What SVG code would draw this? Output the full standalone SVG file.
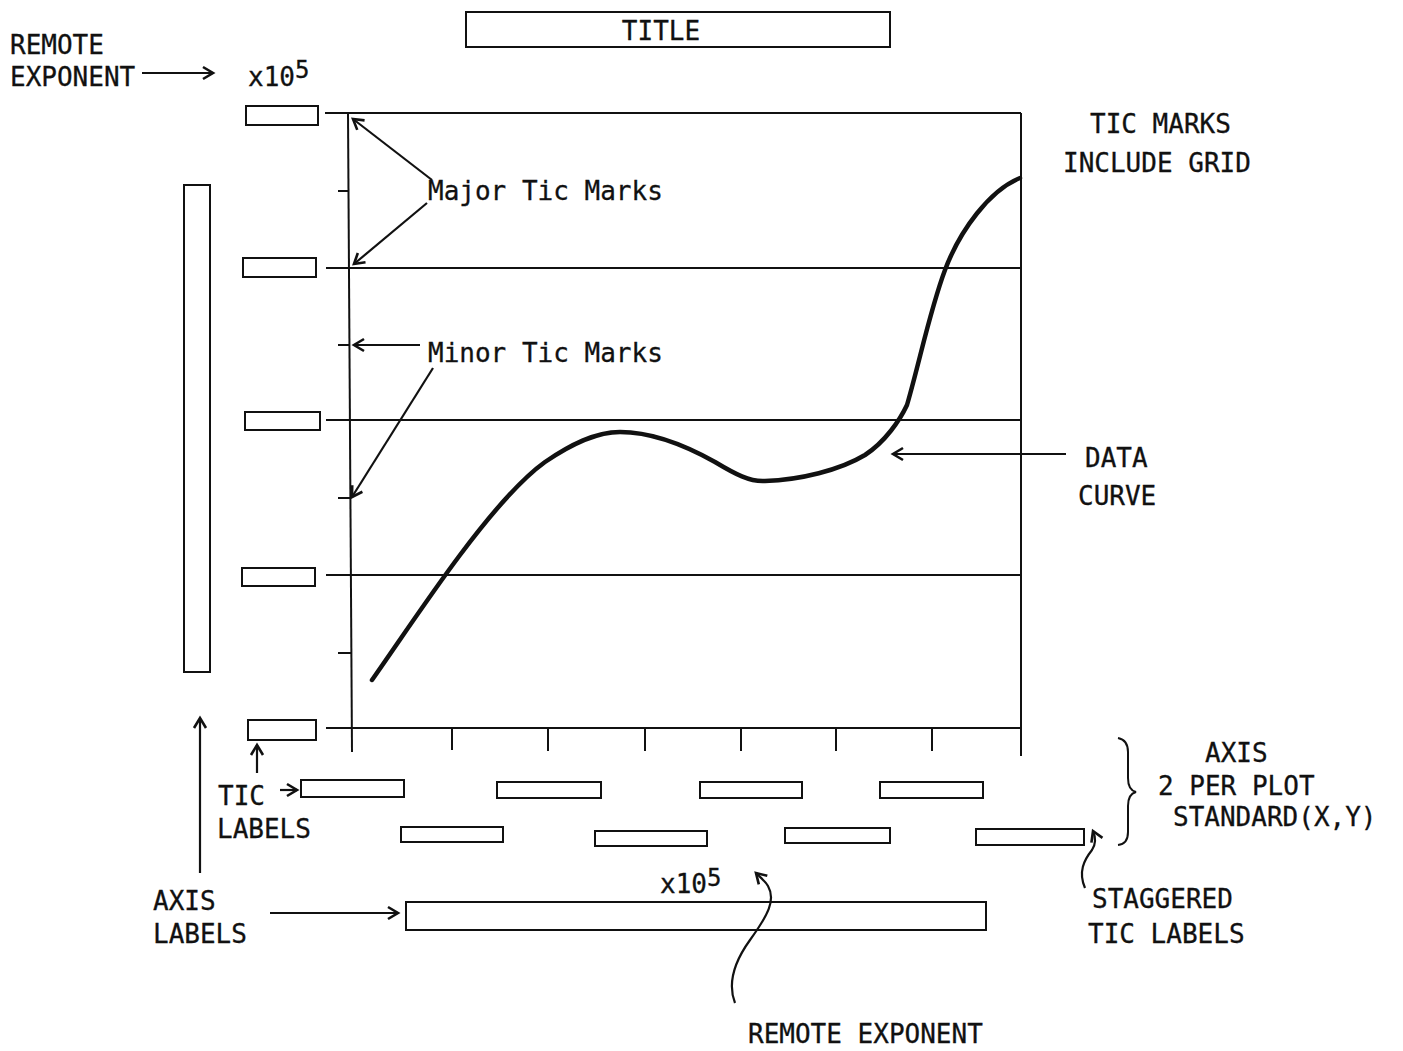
<svg xmlns="http://www.w3.org/2000/svg" width="1403" height="1051" viewBox="0 0 1403 1051">
<style>
text{font-family:"DejaVu Sans Mono","Liberation Mono",monospace;font-size:26px;fill:#111;stroke:#111;stroke-width:0.3}
.sup{font-size:24px}
.box{fill:none;stroke:#111;stroke-width:2}
.ln{fill:none;stroke:#111;stroke-width:2}
.arr{fill:none;stroke:#111;stroke-width:2.2;marker-end:url(#ah)}
.curve{fill:none;stroke:#111;stroke-width:4.5;stroke-linecap:round;stroke-linejoin:round}
</style>
<defs>
<marker id="ah" markerUnits="userSpaceOnUse" markerWidth="16" markerHeight="16" refX="13" refY="8" orient="auto">
<path d="M3,2 L13,8 L3,14" fill="none" stroke="#111" stroke-width="2.6"/>
</marker>
</defs>
<rect width="1403" height="1051" fill="#fff"/>

<g id="title"><rect class="box" x="466" y="12" width="424" height="35"/><text x="661" y="40" text-anchor="middle">TITLE</text></g>

<g id="plot-frame">
<line class="ln" x1="325" y1="113" x2="1021" y2="113"/>
<line class="ln" x1="326" y1="268" x2="1021" y2="268"/>
<line class="ln" x1="326" y1="420" x2="1021" y2="420"/>
<line class="ln" x1="326" y1="575" x2="1021" y2="575"/>
<line class="ln" x1="326" y1="728" x2="1021" y2="728"/>
<line class="ln" x1="348" y1="113" x2="352" y2="752"/>
<line class="ln" x1="1021" y1="113" x2="1021" y2="756"/>
<line class="ln" x1="338" y1="191" x2="349" y2="191"/>
<line class="ln" x1="338" y1="345" x2="350" y2="345"/>
<line class="ln" x1="338" y1="498" x2="351" y2="498"/>
<line class="ln" x1="338" y1="653" x2="351" y2="653"/>
<line class="ln" x1="452" y1="728" x2="452" y2="750"/>
<line class="ln" x1="548" y1="728" x2="548" y2="751"/>
<line class="ln" x1="645" y1="728" x2="645" y2="751"/>
<line class="ln" x1="741" y1="728" x2="741" y2="751"/>
<line class="ln" x1="836" y1="728" x2="836" y2="751"/>
<line class="ln" x1="932" y1="728" x2="932" y2="751"/>
</g>

<g id="data-curve"><path class="curve" d="M372,680 C400,640 430,595 460,555 C490,515 520,480 545,462 C570,445 595,432 620,432 C655,432 690,448 715,462 C735,474 750,482 765,481 C800,480 840,470 865,455 C885,442 900,420 907,405 C920,360 930,310 945,270 C960,230 990,190 1020,178"/></g>

<g id="y-tic-labels">
<rect class="box" x="246" y="106" width="72" height="19"/>
<rect class="box" x="243" y="258" width="73" height="19"/>
<rect class="box" x="245" y="412" width="75" height="18"/>
<rect class="box" x="242" y="568" width="73" height="18"/>
<rect class="box" x="248" y="720" width="68" height="20"/>
</g>
<g id="y-axis-label"><rect class="box" x="184" y="185" width="26" height="487"/></g>

<g id="x-tic-labels">
<rect class="box" x="301" y="780" width="103" height="17"/>
<rect class="box" x="497" y="782" width="104" height="16"/>
<rect class="box" x="700" y="782" width="102" height="16"/>
<rect class="box" x="880" y="782" width="103" height="16"/>
<rect class="box" x="401" y="827" width="102" height="15"/>
<rect class="box" x="595" y="831" width="112" height="15"/>
<rect class="box" x="785" y="828" width="105" height="15"/>
<rect class="box" x="976" y="829" width="108" height="16"/>
</g>
<g id="x-axis-label"><rect class="box" x="406" y="902" width="580" height="28"/></g>

<g id="remote-exponent-top">
<text x="10" y="54">REMOTE</text><text x="10" y="86">EXPONENT</text>
</g>
<g id="exp-top"><text x="248" y="86">x10</text><text class="sup" x="295" y="78">5</text></g>
<g id="exp-bottom"><text x="660" y="893">x10</text><text class="sup" x="707" y="886">5</text></g>
<g id="major-label"><text x="428" y="200">Major Tic Marks</text></g>
<g id="minor-label"><text x="428" y="362">Minor Tic Marks</text></g>
<g id="grid-label"><text x="1090" y="133">TIC MARKS</text><text x="1063" y="172">INCLUDE GRID</text></g>
<g id="curve-label"><text x="1085" y="467">DATA</text><text x="1078" y="505">CURVE</text></g>
<g id="axis-label"><text x="1205" y="762">AXIS</text><text x="1158" y="795">2 PER PLOT</text><text x="1173" y="826">STANDARD(X,Y)</text></g>
<g id="staggered-label"><text x="1092" y="908">STAGGERED</text><text x="1088" y="943">TIC LABELS</text></g>
<g id="remote-exponent-bottom"><text x="748" y="1043">REMOTE EXPONENT</text></g>
<g id="axis-labels-label"><text x="153" y="910">AXIS</text><text x="153" y="943">LABELS</text></g>
<g id="tic-labels-label"><text x="218" y="805">TIC</text><text x="217" y="838">LABELS</text></g>

<g id="connectors">
<line class="arr" x1="142" y1="73" x2="213" y2="73"/>
<line class="arr" x1="432" y1="180" x2="353" y2="119"/>
<line class="arr" x1="427" y1="203" x2="354" y2="264"/>
<line class="arr" x1="420" y1="345" x2="354" y2="345"/>
<line class="arr" x1="433" y1="368" x2="352" y2="497"/>
<line class="arr" x1="1066" y1="454" x2="893" y2="454"/>
<line class="arr" x1="200" y1="873" x2="200" y2="718"/>
<line class="arr" x1="257" y1="773" x2="257" y2="745"/>
<line class="arr" x1="280" y1="790" x2="297" y2="790"/>
<line class="arr" x1="270" y1="913" x2="398" y2="913"/>
<path class="arr" d="M735,1003 C728,985 732,965 750,940 C768,915 776,900 768,886 C765,881 761,878 756,873"/>
<path class="arr" d="M1085,888 C1078,872 1084,860 1092,850 C1096,844 1096,838 1093,831"/>
<path class="ln" d="M1118,738 Q1128,740 1128,752 L1128,778 Q1128,790 1136,792 Q1128,794 1128,806 L1128,832 Q1128,844 1118,845"/>
</g>
</svg>
